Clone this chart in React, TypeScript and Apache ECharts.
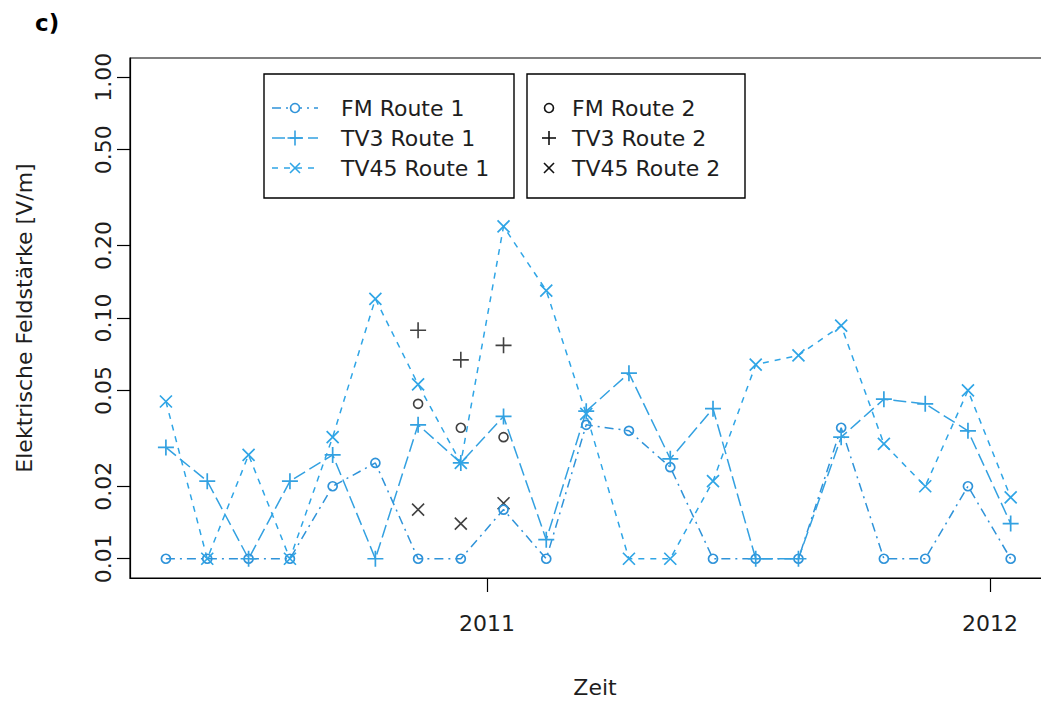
import React, { useEffect, useRef } from "react";
import * as echarts from "echarts";

// ---- data ----
const dates = [
  "2010-05-13", "2010-06-12", "2010-07-12", "2010-08-11", "2010-09-11", "2010-10-12",
  "2010-11-12", "2010-12-13", "2011-01-13", "2011-02-13", "2011-03-14", "2011-04-14",
  "2011-05-14", "2011-06-14", "2011-07-15", "2011-08-15", "2011-09-15", "2011-10-16",
  "2011-11-15", "2011-12-16", "2012-01-16",
];
const fmRoute1 = [0.01, 0.01, 0.01, 0.01, 0.02, 0.025, 0.01, 0.01, 0.016, 0.01, 0.036, 0.034, 0.024, 0.01, 0.01, 0.01, 0.035, 0.01, 0.01, 0.02, 0.01];
const tv3Route1 = [0.029, 0.021, 0.01, 0.021, 0.027, 0.01, 0.036, 0.025, 0.039, 0.012, 0.041, 0.059, 0.026, 0.042, 0.01, 0.01, 0.032, 0.046, 0.044, 0.034, 0.014];
const tv45Route1 = [0.045, 0.01, 0.027, 0.01, 0.032, 0.12, 0.053, 0.025, 0.24, 0.13, 0.04, 0.01, 0.01, 0.021, 0.064, 0.07, 0.093, 0.03, 0.02, 0.05, 0.018];

const route2Dates = ["2010-11-12", "2010-12-13", "2011-01-13"];
const fmRoute2 = [0.044, 0.035, 0.032];
const tv3Route2 = [0.089, 0.067, 0.077];
const tv45Route2 = [0.016, 0.014, 0.017];

const yTicks = [0.01, 0.02, 0.05, 0.1, 0.2, 0.5, 1.0];
const xTickYears = [2011, 2012];

// ---- styles ----
const FONT = "DejaVu Sans";
const TXT = "#1e1e1e";
const C_FM = "#2F93D9";
const C_TV3 = "#33A1E1";
const C_TV45 = "#2FA5E6";
const DASH_FM = [9, 5, 2, 5];
const DASH_TV3 = [13, 5];
const DASH_TV45 = [6, 6];

const CIRCLE = "path://M10,5A5,5 0 1 1 0,5A5,5 0 1 1 10,5Z";
const PLUS = "path://M0,5L10,5M5,0L5,10";
const CROSS = "path://M0,0L10,10M10,0L0,10";

const DAY = 86400000;

function pairs(ds: string[], vs: number[]) {
  return ds.map((d, i) => [Date.parse(d), vs[i]]);
}

export default function App() {
  const ref = useRef<HTMLDivElement>(null);
  useEffect(() => {
    if (!ref.current) return;
    const chart = echarts.init(ref.current, undefined, { renderer: "svg" });

    const gridLeft = 130;
    const gridWidth = 930;
    const y2011 = Date.UTC(2011, 0, 1);
    const pxPerYear = 503;
    const yearMs = 365 * DAY;
    const xMin = y2011 - ((487 - gridLeft) / pxPerYear) * yearMs;
    const xMax = xMin + (gridWidth / pxPerYear) * yearMs;

    const lineSeries = (name: string, vals: number[], color: string, dash: number[], symbol: string, size: number) => ({
      type: "line",
      name,
      data: pairs(dates, vals),
      symbol,
      symbolSize: size,
      showSymbol: true,
      lineStyle: { color, width: 1.5, type: dash },
      itemStyle: { color: "rgba(0,0,0,0)", borderColor: color, borderWidth: 1.7 },
      emphasis: { disabled: true },
    });
    const ptSeries = (name: string, vals: number[], symbol: string, size: number) => ({
      type: "scatter",
      name,
      data: pairs(route2Dates, vals),
      symbol,
      symbolSize: size,
      itemStyle: { color: "rgba(0,0,0,0)", borderColor: "#111", borderWidth: 1.6 },
      emphasis: { disabled: true },
    });

    // legend graphics
    const lx0 = 272, lx1 = 318, lmx = 295;
    const rows = [108, 138, 168];
    const Z = 20;
    const mk = (kind: string, x: number, y: number, color: string, s: number): any[] => {
      const h = s / 2;
      if (kind === "circle")
        return [{ type: "circle", z: Z, shape: { cx: x, cy: y, r: 4.5 }, style: { fill: "#fff", stroke: color, lineWidth: 1.6 } }];
      if (kind === "plus")
        return [
          { type: "line", z: Z, shape: { x1: x - h, y1: y, x2: x + h, y2: y }, style: { stroke: color, lineWidth: 1.6 } },
          { type: "line", z: Z, shape: { x1: x, y1: y - h, x2: x, y2: y + h }, style: { stroke: color, lineWidth: 1.6 } },
        ];
      return [
        { type: "line", z: Z, shape: { x1: x - h, y1: y - h, x2: x + h, y2: y + h }, style: { stroke: color, lineWidth: 1.6 } },
        { type: "line", z: Z, shape: { x1: x + h, y1: y - h, x2: x - h, y2: y + h }, style: { stroke: color, lineWidth: 1.6 } },
      ];
    };
    const leg1 = [
      { name: "FM Route 1", color: C_FM, dash: DASH_FM, kind: "circle", s: 9 },
      { name: "TV3 Route 1", color: C_TV3, dash: DASH_TV3, kind: "plus", s: 15 },
      { name: "TV45 Route 1", color: C_TV45, dash: DASH_TV45, kind: "cross", s: 10 },
    ];
    const leg2 = [
      { name: "FM Route 2", kind: "circle", s: 9 },
      { name: "TV3 Route 2", kind: "plus", s: 14 },
      { name: "TV45 Route 2", kind: "cross", s: 10 },
    ];
    const graphics: any[] = [
      { type: "text", left: 35, top: 11, style: { text: "c)", font: `bold 23px ${FONT}`, fill: "#000" } },
      { type: "rect", z: 10, shape: { x: 264, y: 74, width: 250, height: 124 }, style: { fill: "#fff", stroke: "#000", lineWidth: 1.4 } },
      { type: "rect", z: 10, shape: { x: 527, y: 74, width: 218, height: 124 }, style: { fill: "#fff", stroke: "#000", lineWidth: 1.4 } },
    ];
    leg1.forEach((e, i) => {
      const y = rows[i];
      graphics.push({ type: "line", z: Z, shape: { x1: lx0, y1: y, x2: lx1, y2: y }, style: { stroke: e.color, lineWidth: 1.6, lineDash: e.dash } });
      graphics.push(...mk(e.kind, lmx, y, e.color, e.s));
      graphics.push({ type: "text", z: Z, x: 341, y, style: { text: e.name, font: `22px ${FONT}`, fill: TXT, verticalAlign: "middle" } });
    });
    leg2.forEach((e, i) => {
      const y = rows[i];
      graphics.push(...mk(e.kind, 549, y, "#111", e.s));
      graphics.push({ type: "text", z: Z, x: 572, y, style: { text: e.name, font: `22px ${FONT}`, fill: TXT, verticalAlign: "middle" } });
    });

    chart.setOption({
      animation: false,
      backgroundColor: "#fff",
      grid: {
        left: gridLeft, top: 58, width: gridWidth, height: 520,
        show: true, borderColor: "#000", borderWidth: 1.2,
        containLabel: false, outerBoundsMode: "none",
      },
      xAxis: {
        type: "value",
        min: xMin,
        max: xMax,
        name: "Zeit",
        nameLocation: "middle",
        nameGap: 98,
        nameTextStyle: { fontFamily: FONT, fontSize: 22, color: TXT },
        axisLine: { show: true, lineStyle: { color: "#000", width: 1.2 } },
        axisTick: { show: true, length: 14, lineStyle: { color: "#000", width: 1.2 }, customValues: xTickYears.map((y) => Date.UTC(y, 0, 1)) },
        axisLabel: {
          show: true,
          customValues: xTickYears.map((y) => Date.UTC(y, 0, 1)),
          formatter: (v: number) => String(new Date(v).getUTCFullYear()),
          fontFamily: FONT,
          fontSize: 22,
          color: TXT,
          margin: 34,
        },
        splitLine: { show: false },
      },
      yAxis: {
        type: "log",
        logBase: 10,
        min: Math.pow(10, -2.08),
        max: Math.pow(10, 0.08),
        name: "Elektrische Feldstärke [V/m]",
        nameLocation: "middle",
        nameGap: 95,
        nameTextStyle: { fontFamily: FONT, fontSize: 22, color: TXT },
        axisLine: { show: true, lineStyle: { color: "#000", width: 1.2 } },
        axisTick: { show: true, length: 13, lineStyle: { color: "#000", width: 1.2 }, customValues: yTicks },
        axisLabel: {
          show: true,
          customValues: yTicks,
          rotate: 90,
          formatter: (v: number) => v.toFixed(2),
          fontFamily: FONT,
          fontSize: 22,
          color: TXT,
          margin: 16,
        },
        splitLine: { show: false },
      },
      series: [
        lineSeries("FM Route 1", fmRoute1, C_FM, DASH_FM, CIRCLE, 9),
        lineSeries("TV3 Route 1", tv3Route1, C_TV3, DASH_TV3, PLUS, 16),
        lineSeries("TV45 Route 1", tv45Route1, C_TV45, DASH_TV45, CROSS, 12),
        ptSeries("FM Route 2", fmRoute2, CIRCLE, 9),
        ptSeries("TV3 Route 2", tv3Route2, PLUS, 16),
        ptSeries("TV45 Route 2", tv45Route2, CROSS, 12),
      ],
      graphic: graphics,
    });
    return () => chart.dispose();
  }, []);
  return <div ref={ref} style={{ position: "fixed", left: 0, top: 0, width: 1041, height: 704 }} />;
}
